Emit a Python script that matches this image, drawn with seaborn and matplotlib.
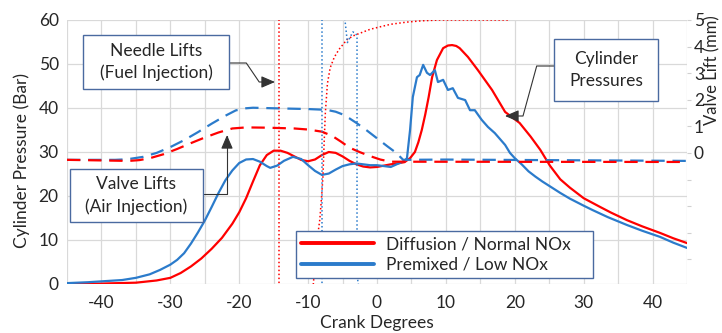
import numpy as np
import pandas as pd
import matplotlib
matplotlib.use("Agg")
import matplotlib.pyplot as plt
import seaborn as sns
from matplotlib.patches import Rectangle
from matplotlib.lines import Line2D

# ---------------- data ----------------
# Cylinder pressure, diffusion / normal NOx (red), bar
red_p_deg = [-45, -40, -35, -32, -30, -28.5, -27, -25.5, -24, -22.5, -21, -20, -19, -18, -17,
             -16, -15, -14, -13, -12, -11, -10, -9, -8, -7, -6, -5, -4, -3, -2, -1, 0, 1, 2,
             3, 4, 4.8, 5.5, 6, 6.5, 7, 7.5, 8, 8.7, 9.6, 10.3, 10.9, 11.5, 12, 13.2, 14.65,
             16.7, 18.6, 20.7, 22.3, 23.7, 25.1, 26.6, 28, 30, 32.4, 34, 36.3, 38.5, 41.1, 43, 45]
red_p_bar = [0, 0.1, 0.3, 0.8, 1.4, 2.5, 4.0, 5.8, 8.0, 10.5, 13.7, 16.3, 19.5, 23.3, 27.0,
             29.3, 30.3, 30.3, 29.8, 29.0, 28.2, 27.9, 28.3, 29.3, 30.0, 29.8, 29.0, 28.0, 27.2,
             26.7, 26.5, 26.6, 26.9, 27.2, 27.4, 27.7, 28.6, 30.0, 32.2, 35.0, 38.5, 42.5, 47.0,
             50.9, 53.6, 54.2, 54.3, 54.1, 53.6, 51.6, 48.6, 44.1, 39.1, 36.6, 33.5, 30.5, 26.9,
             23.8, 21.9, 19.5, 17.5, 16.2, 14.5, 13.1, 11.6, 10.4, 9.3]

# Cylinder pressure, premixed / low NOx (blue), bar
blue_p_deg = [-45, -42, -40, -37, -35, -33, -31.5, -30, -29, -28, -27, -26, -25, -24, -23, -22,
              -21, -20, -19, -18, -17, -16, -15.5, -14.5, -13.5, -12.2, -11, -10, -9, -8, -7,
              -6, -5, -4, -3, -2, -1, 0, 1, 2, 3, 4, 4.35, 4.8, 5.2, 5.8, 6.2, 6.7, 7.25, 7.7,
              8.4, 8.85, 9.6, 10.3, 11.0, 11.75, 12.8, 13.5, 14.2, 15.2, 16.1, 17.1, 18.6, 19.3,
              20, 21, 22, 23, 24, 25, 26.6, 28, 30, 31.3, 33.5, 36.3, 38.5, 41.1, 43, 45]
blue_p_bar = [0.2, 0.4, 0.6, 0.9, 1.4, 2.2, 3.2, 4.4, 5.5, 7.0, 9.2, 11.7, 14.4, 17.5, 20.7,
              23.6, 25.8, 27.5, 28.3, 28.4, 27.8, 26.8, 26.4, 26.9, 28.0, 28.9, 28.4, 27.0, 25.7,
              24.8, 25.1, 26.0, 26.8, 27.2, 27.4, 27.2, 27.0, 27.0, 26.8, 26.6, 27.3, 28.0, 28.6,
              35.0, 42.5, 47.0, 47.5, 49.8, 48.0, 47.5, 48.6, 45.9, 46.4, 44.1, 44.5, 42.3, 41.8,
              39.5, 39.5, 37.3, 35.7, 34.3, 31.6, 29.8, 28.6, 27.2, 25.6, 24.4, 23.3, 22.3, 20.7,
              19.4, 17.8, 16.8, 15.2, 13.4, 12.1, 10.7, 9.4, 8.2]

# Valve lifts (air injection), mm, dashed
red_v_deg = [-45, -36, -34.5, -33, -31, -29, -27, -25, -23, -21, -19, -16, -12, -10, -8, -6.5,
             -5.2, -4, -2.5, -1, 0.5, 2, 45]
red_v_mm = [-0.26, -0.3, -0.27, -0.2, -0.05, 0.15, 0.37, 0.58, 0.77, 0.92, 0.96, 0.95, 0.92,
            0.88, 0.8, 0.64, 0.42, 0.2, 0.03, -0.12, -0.25, -0.33, -0.34]
blue_v_deg = [-45, -38, -36.3, -34, -32, -30, -28, -26, -24, -22, -20.5, -19, -18, -15, -10,
              -7.3, -6, -5, -4, -3, -1.5, 0, 1.5, 2.8, 3.8, 10, 45]
blue_v_mm = [-0.26, -0.26, -0.24, -0.15, 0.0, 0.22, 0.48, 0.78, 1.1, 1.4, 1.6, 1.68, 1.7, 1.68,
             1.65, 1.62, 1.55, 1.45, 1.3, 1.13, 0.85, 0.55, 0.25, 0.0, -0.26, -0.25, -0.3]

# Needle lifts (fuel injection), mm, dotted
red_n1_deg = [-14.2, -14.2]
red_n1_mm = [-5.5, 5.5]
red_n2_deg = [-9.3, -9.0, -8.7, -8.3, -8.0, -7.85, -7.7, -7.5, -7.2, -6.8, -6.2, -5.5, -4.4,
              -3.5, -2.5, -1, 0.4, 2, 4.3, 6.5, 9.1, 19]
red_n2_mm = [-5.1, -4.2, -3.3, -2.5, -1.5, -0.9, 0.2, 1.5, 2.6, 3.2, 3.6, 3.9, 4.25, 4.4, 4.5,
             4.65, 4.74, 4.84, 4.92, 4.97, 5.0, 5.0]
blue_n1_deg = [-8.0, -8.0]
blue_n1_mm = [-5.5, 5.5]
blue_n2_deg = [-4.65, -4.65, -4.3, -3.9, -3.5, -3.1, -2.9, -2.9, -2.7, -2.2, -1.5]
blue_n2_mm = [5.5, 5.0, 4.15, 4.36, 4.55, 4.5, 4.4, -4.6, -4.95, -5.05, -5.1]

series_labels = ["Diffusion / Normal NOx", "Premixed / Low NOx"]
x_ticks = [-40, -30, -20, -10, 0, 10, 20, 30, 40]
y_ticks = [0, 10, 20, 30, 40, 50, 60]
y2_ticks = [-4, -3, -2, -1, 0, 1, 2, 3, 4, 5]
y2_labels = ["", "", "", "", "0", "1", "2", "3", "4", "5"]

RED = "#FF0000"
BLUE = "#2B7BCB"
BOX = "#4A6AA0"
TXT = "#262626"

# ---------------- style ----------------
sns.set_theme(style="white")
plt.rcParams["font.family"] = ["Lato", "DejaVu Sans"]
plt.rcParams["axes.unicode_minus"] = False

W, H = 722, 333
fig = plt.figure(figsize=(W / 100, H / 100), dpi=100)
L, R, T, B = 67, 687, 20, 284
ax = fig.add_axes([L / W, 1 - B / H, (R - L) / W, (B - T) / H])
ax2 = ax.twinx()

def df(x, y):
    return pd.DataFrame({"x": x, "y": y})

# pressures
sns.lineplot(data=df(red_p_deg, red_p_bar), x="x", y="y", ax=ax, color=RED, lw=1.6,
             estimator=None, sort=False, legend=False)
sns.lineplot(data=df(blue_p_deg, blue_p_bar), x="x", y="y", ax=ax, color=BLUE, lw=1.6,
             estimator=None, sort=False, legend=False)

# valve lifts (dashed)
sns.lineplot(data=df(blue_v_deg, blue_v_mm), x="x", y="y", ax=ax2, color=BLUE, lw=1.6,
             estimator=None, sort=False, legend=False, dashes=False, linestyle=(0, (6, 3.5)))
sns.lineplot(data=df(red_v_deg, red_v_mm), x="x", y="y", ax=ax2, color=RED, lw=1.6,
             estimator=None, sort=False, legend=False, dashes=False, linestyle=(0, (6, 3.5)))

# needle lifts (dotted)
for xs, ys, c in [(red_n1_deg, red_n1_mm, RED), (red_n2_deg, red_n2_mm, RED),
                  (blue_n1_deg, blue_n1_mm, BLUE), (blue_n2_deg, blue_n2_mm, BLUE)]:
    sns.lineplot(data=df(xs, ys), x="x", y="y", ax=ax2, color=c, lw=1.1,
                 estimator=None, sort=False, legend=False, dashes=False, linestyle=(0, (1, 1.6)))

# axes
ax.set_xlim(-45, 45)
ax.set_ylim(0, 60)
ax2.set_ylim(-4.93, 5)
ax.set_xticks(x_ticks)
ax.set_xticks(np.arange(-45, 46, 5), minor=True)
ax.set_yticks(y_ticks)
ax.grid(True, which="both", axis="x", color="#D9D9D9", lw=0.9)
ax.grid(True, which="major", axis="y", color="#D9D9D9", lw=0.9)
ax.set_axisbelow(True)
for sp in list(ax.spines.values()) + list(ax2.spines.values()):
    sp.set_visible(False)
ax.tick_params(axis="both", which="both", length=0, labelsize=12.5, colors=TXT, pad=6)
ax.tick_params(axis="x", pad=8)
ax2.set_yticks(y2_ticks)
ax2.set_yticklabels(y2_labels)
ax2.tick_params(axis="y", length=3, width=0.8, color="#D0D0D0", labelsize=12.5,
                labelcolor=TXT, pad=2)

ax.set_xlabel("Crank Degrees", fontsize=12.5, color=TXT)
ax.xaxis.set_label_coords(0.5, -0.118)
ax.set_ylabel("Cylinder Pressure (Bar)", fontsize=12.5, color=TXT)
ax2.set_ylabel("Valve Lift (mm)", fontsize=12, color=TXT)
for lab in (ax.yaxis.label, ax2.yaxis.label):
    lab.set_rotation_mode("default")
    lab.set_verticalalignment("center")
    lab.set_horizontalalignment("center")
ax.yaxis.set_label_coords((22 - L) / (R - L), (B - 160) / (B - T))
ax2.yaxis.set_label_coords((712.5 - L) / (R - L), (B - 70) / (B - T))

# legend
handles = [Line2D([], [], color=RED, lw=2.8), Line2D([], [], color=BLUE, lw=2.8)]
leg = ax2.legend(handles, series_labels, loc="lower left",
                 bbox_to_anchor=((296 - L) / (R - L), (B - 278) / (B - T),
                                 (593 - 296) / (R - L), (278 - 225) / (B - T)),
                 mode="expand", fontsize=12.5, frameon=True, fancybox=False,
                 handlelength=4.2, handletextpad=0.7, borderpad=0.3, labelspacing=0.25,
                 borderaxespad=0)
leg.get_frame().set_edgecolor(BOX)
leg.get_frame().set_linewidth(1.0)
leg.get_frame().set_alpha(1)
leg.set_zorder(10)

# annotation boxes
def box(x0, y0, x1, y1, text):
    fig.add_artist(Rectangle((x0 / W, 1 - y1 / H), (x1 - x0) / W, (y1 - y0) / H,
                             transform=fig.transFigure, facecolor="white",
                             edgecolor=BOX, lw=1.0, zorder=5))
    fig.text((x0 + x1) / 2 / W, 1 - (y0 + y1) / 2 / H, text, ha="center", va="center",
             fontsize=12.5, color=TXT, linespacing=1.45, zorder=6)

box(83, 35, 229, 89, "Needle Lifts\n(Fuel Injection)")
box(554, 39, 658, 101, "Cylinder\nPressures")
box(70, 169, 203, 222, "Valve Lifts\n(Air Injection)")

arrow_kw = dict(arrowstyle="-|>,head_length=0.7,head_width=0.3", color="#333333", lw=0.8,
                shrinkA=0, shrinkB=0, mutation_scale=12)

def arrow(start, tip, conn):
    ax2.annotate("", xy=(tip[0], H - tip[1]), xycoords="figure pixels",
                 xytext=(start[0], H - start[1]), textcoords="figure pixels",
                 arrowprops=dict(connectionstyle=conn, **arrow_kw),
                 annotation_clip=False, zorder=7)

arrow((229, 63), (275, 82), "arc,angleA=0,angleB=180,armA=17.3,armB=15.8,rad=0")
arrow((554, 66), (505, 116), "arc,angleA=180,angleB=0,armA=17.3,armB=18,rad=0")
arrow((203, 194), (227, 135), "angle,angleA=0,angleB=90,rad=0")

fig.savefig("out.png", dpi=100)
